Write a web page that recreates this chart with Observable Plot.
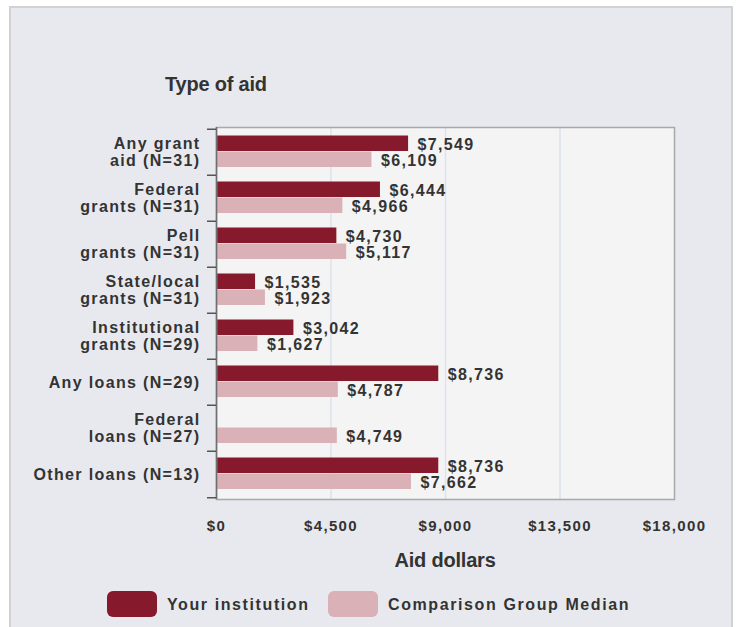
<!DOCTYPE html>
<html>
<head>
<meta charset="utf-8">
<script src="https://cdn.jsdelivr.net/npm/d3@7"></script>
<script src="https://cdn.jsdelivr.net/npm/@observablehq/plot@0.6"></script>
<style>
html,body{margin:0;padding:0;background:#fff;overflow:hidden;width:738px;height:627px;}
#panel{position:absolute;left:9px;top:6px;width:720px;height:640px;background:#e8e9ee;border:2px solid #d2d2d2;border-bottom:none;}
#chart{position:absolute;left:0;top:0;}
.t{position:absolute;font-family:"Liberation Sans",Arial,sans-serif;font-weight:bold;color:#333;white-space:nowrap;}
#title{left:165px;top:73px;font-size:20px;letter-spacing:-0.2px;}
#xtitle{left:445px;top:549px;font-size:20px;letter-spacing:-0.2px;transform:translateX(-50%);}
.sw{position:absolute;width:50px;height:26px;border-radius:6px;}
.lg{font-size:16px;letter-spacing:1.6px;top:596px;}
#chart svg text{letter-spacing:1.35px;}
</style>
</head>
<body>
<div id="panel"></div>
<div id="chart"></div>
<div class="t" id="title">Type of aid</div>
<div class="t" id="xtitle">Aid dollars</div>
<div id="legend"></div>
<script>
// ---- data ----
const categories = [
  "Any grant\naid (N=31)",
  "Federal\ngrants (N=31)",
  "Pell\ngrants (N=31)",
  "State/local\ngrants (N=31)",
  "Institutional\ngrants (N=29)",
  "Any loans (N=29)",
  "Federal\nloans (N=27)",
  "Other loans (N=13)"
];
const institution = [7549, 6444, 4730, 1535, 3042, 8736, null, 8736];
const comparison  = [6109, 4966, 5117, 1923, 1627, 4787, 4749, 7662];
const xTicks = [0, 4500, 9000, 13500, 18000];
const seriesNames = ["Your institution", "Comparison Group Median"];
const seriesColors = ["#86192b", "#d9b1b7"];

const rows = categories.map((c, i) => ({cat: c, inst: institution[i], comp: comparison[i]}));
const instRows = rows.filter(d => d.inst != null);
const fmt = v => "$" + d3.format(",")(v);

const band = (580 - 127 - 81) / categories.length;

const chart = Plot.plot({
  width: 738,
  height: 580,
  marginLeft: 216,
  marginRight: 64,
  marginTop: 127,
  marginBottom: 81,
  style: {background: "transparent", fontFamily: "Liberation Sans, Arial, sans-serif", fontWeight: "bold", fontSize: "16px", color: "#333"},
  x: {domain: [0, 18000], ticks: xTicks},
  y: {domain: categories, padding: 0, axis: null},
  marks: [
    Plot.frame({fill: "#f4f4f4", stroke: "none"}),
    Plot.gridX(xTicks.slice(1, -1), {stroke: "#dce2ee", strokeOpacity: 1, strokeWidth: 1.5}),
    Plot.barX(instRows, {x: "inst", y: "cat", fill: seriesColors[0], insetTop: 6.5, insetBottom: band - 22.5}),
    Plot.barX(rows, {x: "comp", y: "cat", fill: seriesColors[1], insetTop: 22.5, insetBottom: band - 38.5}),
    Plot.text(instRows, {x: "inst", y: "cat", text: d => fmt(d.inst), textAnchor: "start", dx: 9, dy: -8, fill: "#333"}),
    Plot.text(rows, {x: "comp", y: "cat", text: d => fmt(d.comp), textAnchor: "start", dx: 9, dy: 8, fill: "#333"}),
    Plot.frame({stroke: "#a9a9a9", strokeWidth: 1.5}),
    Plot.ruleX([0], {stroke: "#6e6e6e", strokeWidth: 1.5}),
    Plot.ruleY(categories, {y: d => d, dy: -band / 2, x1: 0, x2: 0, insetLeft: -9, stroke: "#555", strokeWidth: 1.5}),
    Plot.ruleY(categories.slice(-1), {y: d => d, dy: band / 2, x1: 0, x2: 0, insetLeft: -9, stroke: "#555", strokeWidth: 1.5}),
    Plot.text(categories, {y: d => d, text: d => d, frameAnchor: "left", textAnchor: "end", dx: -16, lineHeight: 1.06, fill: "#333"}),
    Plot.axisX(xTicks, {tickSize: 0, tickPadding: 21, tickFormat: fmt, label: null, fill: "#333", fontSize: 15})
  ]
});
document.getElementById("chart").appendChild(chart);

// legend
const legend = document.getElementById("legend");
const lx = [[107, 167], [328, 388]];
seriesNames.forEach((name, i) => {
  const sw = document.createElement("div");
  sw.className = "sw";
  sw.style.left = lx[i][0] + "px";
  sw.style.top = "591px";
  sw.style.background = seriesColors[i];
  legend.appendChild(sw);
  const tx = document.createElement("div");
  tx.className = "t lg";
  tx.style.left = lx[i][1] + "px";
  tx.textContent = name;
  legend.appendChild(tx);
});
</script>
</body>
</html>
